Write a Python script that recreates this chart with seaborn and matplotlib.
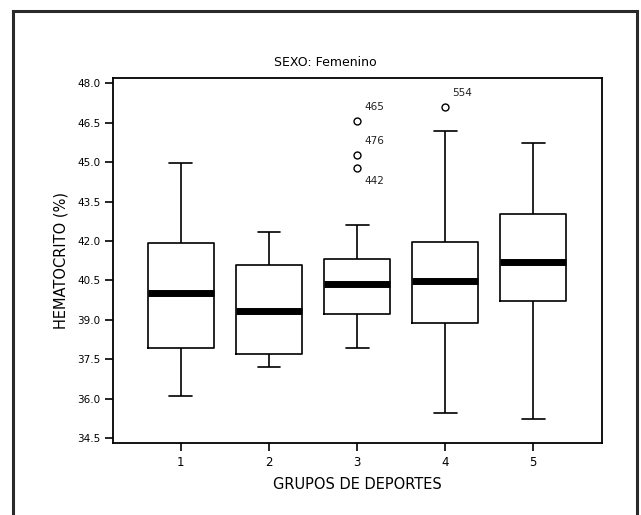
import matplotlib
matplotlib.use("Agg")
import matplotlib.pyplot as plt
from matplotlib.patches import Rectangle
import seaborn as sns
import numpy as np
import pandas as pd

# summary values (HEMATOCRITO %, by group)
groups = ["1", "2", "3", "4", "5"]
whisker_low = [36.12, 37.22, 37.92, 35.45, 35.22]
q1 = [37.92, 37.72, 39.23, 38.89, 39.72]
median = [40.02, 39.33, 40.37, 40.49, 41.19]
q3 = [41.92, 41.08, 41.31, 41.98, 43.02]
whisker_high = [44.96, 42.33, 42.60, 46.17, 45.72]
outliers = {"3": [46.58, 45.27, 44.77], "4": [47.09]}
outlier_ids = {"3": ["465", "476", "442"], "4": ["554"]}

yticks = [34.5, 36.0, 37.5, 39.0, 40.5, 42.0, 43.5, 45.0, 46.5, 48.0]

# rebuild a sample per group whose quartiles/whiskers match the summary
rows = []
for i, g in enumerate(groups):
    vals = []
    for v in (whisker_low[i], q1[i], median[i], q3[i], whisker_high[i]):
        vals += [v] * 10
    vals += outliers.get(g, [])
    rows += [(g, v) for v in vals]
df = pd.DataFrame(rows, columns=["grupo", "hematocrito"])

sns.set_style("white")
plt.rcParams["font.family"] = ["DejaVu Sans"]
plt.rcParams.update({"text.color": "black", "axes.labelcolor": "black",
                     "xtick.color": "black", "ytick.color": "black"})

fig = plt.figure(figsize=(6.41, 5.15), dpi=100)
ax = fig.add_axes([0.1763, 0.1398, 0.7629, 0.7087])

sns.boxplot(data=df, x="grupo", y="hematocrito", order=groups, ax=ax,
            width=0.75, fill=False, color="black", linewidth=1.2,
            whis=1.5, capwidths=0.26,
            medianprops=dict(color="black", linewidth=5, solid_capstyle="butt"),
            flierprops=dict(marker="o", markersize=5, markerfacecolor="white",
                            markeredgecolor="black", markeredgewidth=1.0))

# outlier case labels
for i, g in enumerate(groups):
    for v, lab in zip(outliers.get(g, []), outlier_ids.get(g, [])):
        dy = -9 if lab == "442" else 10
        ax.annotate(lab, (i, v), xytext=(5, dy), textcoords="offset points",
                    fontsize=7.5, ha="left", va="center", color="#222222")

ax.set_xlim(-0.77, 4.78)
ax.set_ylim(34.32, 48.2)
ax.set_yticks(yticks)
ax.set_yticklabels([f"{t:.1f}" for t in yticks], fontsize=7.5)
ax.set_xticks(range(len(groups)))
ax.set_xticklabels(groups, fontsize=8.5)
ax.tick_params(axis="both", direction="out", length=6, width=1.2, color="black",
               labelcolor="black", bottom=True, left=True, pad=3)
for s in ax.spines.values():
    s.set_visible(True)
    s.set_color("black")
    s.set_linewidth(1.3)

ax.set_xlabel("GRUPOS DE DEPORTES", fontsize=10.5, labelpad=6, color="black")
ax.set_ylabel("HEMATOCRITO (%)", fontsize=10.5, labelpad=6, color="black")
fig.text(325 / 641, 1 - 63 / 515, "SEXO: Femenino", ha="center", va="center",
         fontsize=9, color="black")

# outer frame around the whole chart
fig.patches.append(Rectangle((13 / 641, -0.05), 624 / 641, 1.05 - 11 / 515,
                             transform=fig.transFigure, fill=False,
                             edgecolor="#2a2a2a", linewidth=2.2))

fig.savefig("out.png", dpi=100)
